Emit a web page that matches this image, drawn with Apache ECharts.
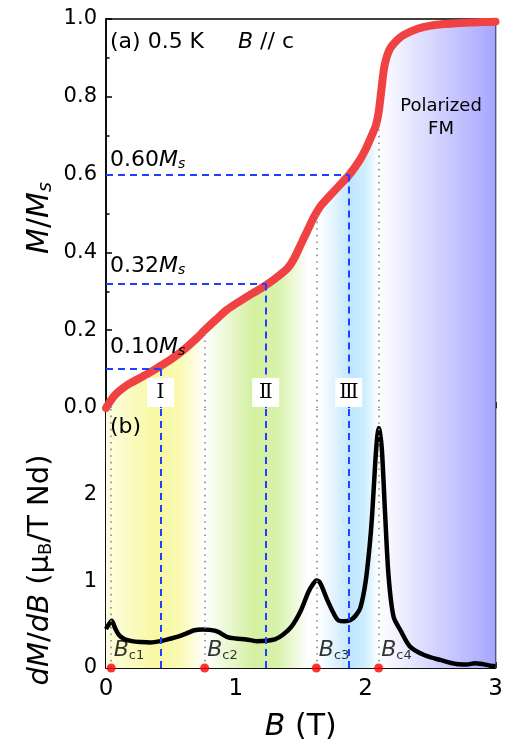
<!DOCTYPE html>
<html>
<head>
<meta charset="utf-8">
<script src="https://cdn.jsdelivr.net/npm/echarts@6/dist/echarts.min.js"></script>
<style>
html, body { margin: 0; padding: 0; background: #fff; }
#main { width: 506px; height: 745px; }
</style>
</head>
<body>
<div id="main"></div>
<script>
"use strict";

// (a) M/Ms vs B
var fieldM = [0, 0.03, 0.06, 0.1, 0.15, 0.2, 0.3, 0.4, 0.5, 0.6, 0.7, 0.76, 0.85, 0.93, 1.0, 1.1, 1.2, 1.3, 1.4, 1.45, 1.5, 1.55, 1.6, 1.65, 1.7, 1.75, 1.8, 1.87, 1.95, 2.0, 2.05, 2.08, 2.1, 2.12, 2.14, 2.16, 2.19, 2.25, 2.3, 2.4, 2.5, 2.6, 2.7, 2.8, 2.9, 3.0];
var moment = [0, 0.016, 0.03, 0.043, 0.056, 0.066, 0.084, 0.104, 0.125, 0.15, 0.18, 0.2, 0.228, 0.252, 0.268, 0.289, 0.309, 0.332, 0.36, 0.385, 0.42, 0.455, 0.49, 0.518, 0.537, 0.555, 0.573, 0.598, 0.635, 0.665, 0.703, 0.728, 0.76, 0.815, 0.87, 0.9, 0.925, 0.948, 0.96, 0.975, 0.983, 0.987, 0.989, 0.991, 0.992, 0.993];

// (b) dM/dB vs B
var fieldD = [0, 0.02, 0.044, 0.07, 0.1, 0.14, 0.2, 0.27, 0.34, 0.42, 0.5, 0.56, 0.62, 0.68, 0.74, 0.8, 0.86, 0.93, 1.0, 1.08, 1.16, 1.24, 1.3, 1.36, 1.43, 1.5, 1.56, 1.6, 1.62, 1.65, 1.7, 1.75, 1.79, 1.84, 1.88, 1.92, 1.96, 2.0, 2.03, 2.05, 2.075, 2.09, 2.1, 2.11, 2.125, 2.15, 2.177, 2.215, 2.27, 2.34, 2.45, 2.58, 2.7, 2.78, 2.84, 2.9, 2.96, 3.0];
var deriv = [0.45, 0.5, 0.545, 0.46, 0.38, 0.335, 0.31, 0.3, 0.295, 0.31, 0.34, 0.365, 0.4, 0.435, 0.445, 0.44, 0.42, 0.36, 0.34, 0.33, 0.31, 0.315, 0.33, 0.38, 0.48, 0.66, 0.88, 0.98, 1.01, 0.98, 0.8, 0.64, 0.55, 0.54, 0.55, 0.6, 0.7, 1.0, 1.4, 1.77, 2.4, 2.68, 2.77, 2.72, 2.52, 1.77, 1.05, 0.59, 0.43, 0.25, 0.15, 0.09, 0.045, 0.04, 0.055, 0.045, 0.027, 0.02];

// critical fields and M/Ms at those fields
var critField = [0.04, 0.76, 1.62, 2.1];
var critM = [0.016, 0.2, 0.5, 0.74];
var critName = ["c1", "c2", "c3", "c4"];

// plateaus
var plateau = [0.10, 0.32, 0.60];
var plateauField = [0.42, 1.23, 1.87];
var plateauName = ["Ⅰ", "Ⅱ", "Ⅲ"];

// tick labels
var xLabels = ["0", "1", "2", "3"];
var yTopLabels = ["0.0", "0.2", "0.4", "0.6", "0.8", "1.0"];
var yBotLabels = ["0", "1", "2", ""];

var FONT = "DejaVu Sans";
var G = echarts.graphic;

// background colours (offset = B / 3)
function bands() {
	return new G.LinearGradient(0, 0, 1, 0, [
		{offset: 0, color: "#fdfde0"},
		{offset: 0.13, color: "#f8f8a2"},
		{offset: 0.19, color: "#fafab4"},
		{offset: 0.253, color: "#ffffff"},
		{offset: 0.38, color: "#d3f0a0"},
		{offset: 0.44, color: "#d8f2aa"},
		{offset: 0.52, color: "#ffffff"},
		{offset: 0.545, color: "#ffffff"},
		{offset: 0.63, color: "#c0e6ff"},
		{offset: 0.665, color: "#cdeeff"},
		{offset: 0.7, color: "#ffffff"},
		{offset: 1, color: "#a6a6ff"}
	]);
}

function pairs(xs, ys) {
	return xs.map(function (x, i) { return [x, ys[i]]; });
}

var dotted = {color: "#8a8a8a", width: 1.6, type: [1.6, 5]};
var dashed = {color: "#2040ff", width: 2, type: [7, 5]};

function axisX(idx, labels) {
	return {
		type: "value", gridIndex: idx, min: 0, max: 3, interval: 1,
		axisLine: {lineStyle: {color: "#000", width: 1.5}},
		axisTick: {inside: true, length: 6, lineStyle: {color: "#000", width: 1.5}},
		minorTick: {show: true, splitNumber: 2, length: 3.5, lineStyle: {color: "#000", width: 1.5}},
		splitLine: {show: false},
		axisLabel: labels ? {
			show: true, margin: 10, color: "#000", fontSize: 23, fontFamily: FONT,
			formatter: function (v) { return labels[Math.round(v)]; }
		} : {show: false}
	};
}

function axisY(idx, max, step, labels) {
	return {
		type: "value", gridIndex: idx, min: 0, max: max, interval: step,
		axisLine: {show: true, lineStyle: {color: "#000", width: 1.5}},
		axisTick: {inside: true, length: 6, lineStyle: {color: "#000", width: 1.5}},
		minorTick: {show: true, splitNumber: 2, length: 3.5, lineStyle: {color: "#000", width: 1.5}},
		splitLine: {show: false},
		axisLabel: {
			margin: 9, color: "#000", fontSize: 21, fontFamily: FONT,
			formatter: function (v) { return labels[Math.round(v / step)]; }
		}
	};
}

var subRich = {
	i: {fontStyle: "italic", fontFamily: FONT, fontSize: 22, color: "#000"},
	n: {fontFamily: FONT, fontSize: 22, color: "#000"},
	s: {fontStyle: "italic", fontFamily: FONT, fontSize: 14, color: "#000", padding: [9, 0, 0, 0], verticalAlign: "bottom"}
};

function note(x, y, text, size, align) {
	return {
		type: "text", x: x, y: y, z: 10,
		style: {
			text: text, rich: subRich, fill: "#000", fontFamily: FONT, fontSize: size || 22,
			align: align || "left", verticalAlign: "middle"
		}
	};
}

var chart = echarts.init(document.getElementById("main"));

var option = {
	animation: false,
	grid: [
		{left: 106, top: 19, width: 389.5, height: 389, show: true, borderColor: "#000", borderWidth: 1.5},
		{left: 106, top: 408, width: 389.5, height: 260, show: true, borderColor: "#000", borderWidth: 1.5}
	],
	xAxis: [
		axisX(0, null),
		Object.assign(axisX(1, xLabels), {
			name: "{i|B} (T)", nameLocation: "middle", nameGap: 44,
			nameTextStyle: {
				color: "#000", fontSize: 30, fontFamily: FONT,
				rich: {i: {fontStyle: "italic", fontSize: 30, fontFamily: FONT, color: "#000"}}
			}
		})
	],
	yAxis: [
		axisY(0, 1, 0.2, yTopLabels),
		axisY(1, 3, 1, yBotLabels)
	],
	graphic: [
		{
			type: "text", x: 40, y: 218, rotation: Math.PI / 2, z: 10,
			style: {
				text: "{i|M}/{i|M}{s|s}", fill: "#000", align: "center", verticalAlign: "middle",
				fontFamily: FONT, fontSize: 30,
				rich: {
					i: {fontStyle: "italic", fontSize: 30, fontFamily: FONT, color: "#000"},
					s: {fontStyle: "italic", fontSize: 19, fontFamily: FONT, color: "#000", padding: [12, 0, 0, 0], verticalAlign: "bottom"}
				}
			}
		},
		{
			type: "text", x: 40, y: 570, rotation: Math.PI / 2, z: 10,
			style: {
				text: "{i|dM}/{i|dB} (μ{s|B}/T Nd)", fill: "#000", align: "center", verticalAlign: "middle",
				fontFamily: FONT, fontSize: 29,
				rich: {
					i: {fontStyle: "italic", fontSize: 29, fontFamily: FONT, color: "#000"},
					s: {fontSize: 18, fontFamily: FONT, color: "#000", padding: [12, 0, 0, 0], verticalAlign: "bottom"}
				}
			}
		},
		note(110, 42, "{n|(a) 0.5 K}", 21),
		note(238, 42, "{i|B}{n| // c}", 21),
		note(110, 427, "{n|(b)}", 21),
		note(110, 160, "{n|0.60}{i|M}{s|s}"),
		note(110, 266, "{n|0.32}{i|M}{s|s}"),
		note(110, 347, "{n|0.10}{i|M}{s|s}"),
		{
			type: "text", x: 441, y: 118, z: 10,
			style: {text: "Polarized\nFM", fill: "#000", fontFamily: FONT, fontSize: 18, lineHeight: 23, align: "center", verticalAlign: "middle"}
		}
	],
	series: [
		// coloured regions under M(B)
		{
			type: "line", xAxisIndex: 0, yAxisIndex: 0, z: 1, silent: true,
			data: pairs(fieldM, moment), smooth: 0.25, showSymbol: false,
			lineStyle: {width: 0}, areaStyle: {color: bands(), opacity: 1}
		},
		// guide lines in (a)
		{
			type: "line", xAxisIndex: 0, yAxisIndex: 0, z: 2, silent: true, data: [],
			markLine: {
				silent: true, symbol: "none", animation: false, label: {show: false},
				data: critField.map(function (b, i) {
					return [{coord: [b, 0], lineStyle: dotted}, {coord: [b, critM[i]]}];
				}).concat(plateau.map(function (p, i) {
					return [{coord: [0, p], lineStyle: dashed}, {coord: [plateauField[i], p]}];
				})).concat(plateau.map(function (p, i) {
					return [{coord: [plateauField[i], p], lineStyle: dashed}, {coord: [plateauField[i], 0]}];
				}))
			}
		},
		// M(B)
		{
			type: "line", xAxisIndex: 0, yAxisIndex: 0, z: 3, silent: true,
			data: pairs(fieldM, moment), smooth: 0.25, showSymbol: false,
			lineStyle: {color: "#f04242", width: 8, cap: "round", join: "round"}
		},
		// phase labels
		{
			type: "scatter", xAxisIndex: 0, yAxisIndex: 0, z: 10, silent: true,
			data: plateauField.map(function (f) { return [f, 0.04]; }),
			symbol: "rect", symbolSize: [27, 29], itemStyle: {color: "#fff", opacity: 1},
			label: {
				show: true, position: "inside", color: "#000", fontSize: 20,
				fontFamily: "DejaVu Serif",
				formatter: function (p) { return plateauName[p.dataIndex]; }
			}
		},
		// coloured regions in (b)
		{
			type: "line", xAxisIndex: 1, yAxisIndex: 1, z: 1, silent: true, data: [],
			markArea: {
				silent: true, animation: false, itemStyle: {color: bands(), opacity: 1},
				data: [[{coord: [0, 0]}, {coord: [3, 3]}]]
			}
		},
		// guide lines in (b)
		{
			type: "line", xAxisIndex: 1, yAxisIndex: 1, z: 2, silent: true, data: [],
			markLine: {
				silent: true, symbol: "none", animation: false, label: {show: false},
				data: critField.map(function (b) {
					return {xAxis: b, lineStyle: dotted};
				}).concat(plateauField.map(function (f) {
					return {xAxis: f, lineStyle: dashed};
				}))
			}
		},
		// dM/dB
		{
			type: "line", xAxisIndex: 1, yAxisIndex: 1, z: 3, silent: true,
			data: pairs(fieldD, deriv), smooth: 0.3, showSymbol: false,
			lineStyle: {color: "#000", width: 4.5}
		},
		// critical field markers
		{
			type: "scatter", xAxisIndex: 1, yAxisIndex: 1, z: 5, silent: true, clip: false,
			data: critField.map(function (b) { return [b, 0]; }),
			symbol: "circle", symbolSize: 9, itemStyle: {color: "#ff0000"},
			label: {
				show: true, position: [7, -25],
				formatter: function (p) { return "{i|B}{s|" + critName[p.dataIndex] + "}"; },
				rich: {
					i: {fontStyle: "italic", fontFamily: FONT, fontSize: 22, color: "#000"},
					s: {fontFamily: FONT, fontSize: 13, color: "#000", padding: [11, 0, 0, 0], verticalAlign: "bottom"}
				}
			}
		}
	]
};

chart.setOption(option);
</script>
</body>
</html>
